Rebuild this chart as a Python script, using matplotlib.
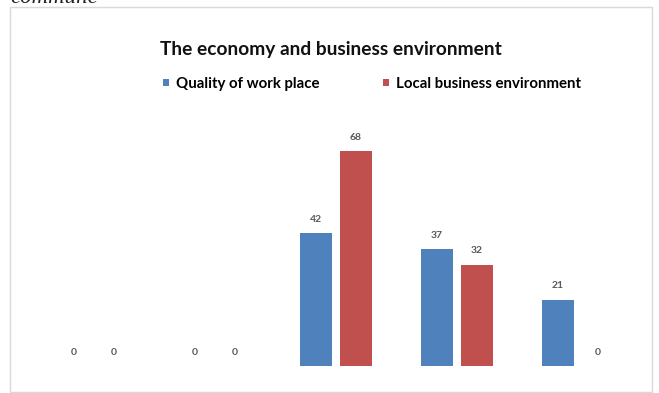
import matplotlib
matplotlib.use("Agg")
import matplotlib.pyplot as plt
from matplotlib.patches import Rectangle
import numpy as np

categories = ["1", "2", "3", "4", "5"]
quality_work = [0, 0, 42, 37, 21]
local_business = [0, 0, 68, 32, 0]
series_names = ["Quality of work place", "Local business environment"]

BLUE = "#4F81BD"
RED = "#C0504D"

W, H = 659, 393
fig = plt.figure(figsize=(W / 100, H / 100), dpi=100)

# chart frame
fig.patches.append(Rectangle((10 / W, 1 - 392 / H), 642 / W, 385 / H,
                             transform=fig.transFigure, fill=False,
                             edgecolor="#d9d9d9", lw=1.0))
# caption from the page, cut at the top edge as in the source
fig.text(10 / W, 1 - 3 / H, "commune", ha="left", va="baseline", fontsize=16.5,
         style="italic", family="Liberation Serif", color="#222222")

ax = fig.add_axes([33.5 / W, 27 / H, 605 / W, 253 / H])
x = np.arange(len(categories))
bw = 32 / 121
off = 20 / 121
b1 = ax.bar(x - off, quality_work, bw, color=BLUE, label=series_names[0])
b2 = ax.bar(x + off, local_business, bw, color=RED, label=series_names[1])

for bars, vals in ((b1, quality_work), (b2, local_business)):
    for b, v in zip(bars, vals):
        ax.annotate(str(v), (b.get_x() + b.get_width() / 2, v),
                    xytext=(0, 10), textcoords="offset points",
                    ha="center", va="center", fontsize=7.5,
                    color="#595959", family="Lato", fontweight="bold")

ax.set_xlim(-0.5, len(categories) - 0.5)
ax.set_ylim(0, 80)
ax.axis("off")

fig.text(331 / W, 1 - 50 / H, "The economy and business environment",
         ha="center", va="center", fontsize=13.8, fontweight="bold",
         family="Lato", color="#111111")

leg = fig.legend(handles=[b1, b2], labels=series_names, loc="center",
                 bbox_to_anchor=(372 / W, 1 - 84 / H), ncol=2, frameon=False,
                 prop={"family": "Lato", "weight": "bold", "size": 10.8},
                 handlelength=0.4, handleheight=0.4, handletextpad=0.5,
                 columnspacing=4.2)

fig.savefig("out.png", dpi=100)
